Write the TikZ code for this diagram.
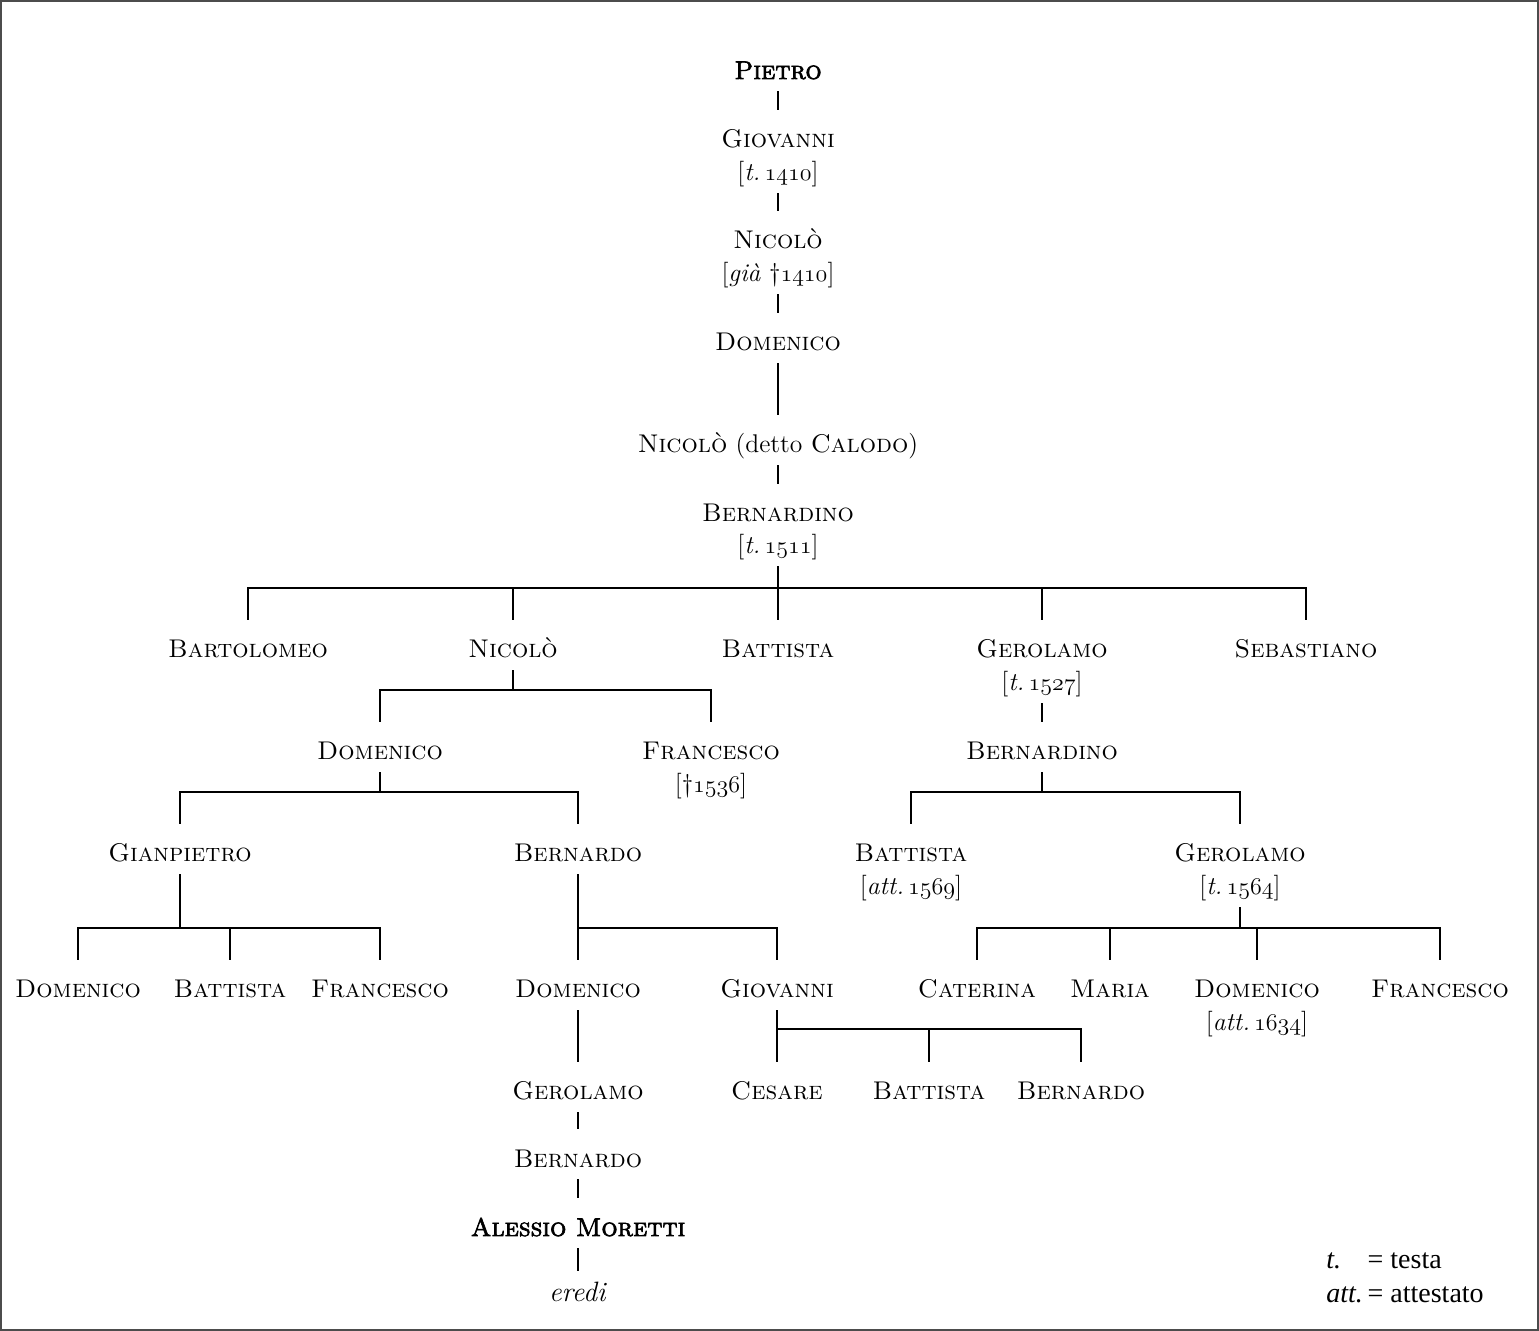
\documentclass[tikz,border=0pt]{standalone}
\usepackage{fontspec}
\newfontfamily\legendfont[Extension=.ttf, UprightFont=LiberationSerif-Regular, ItalicFont=LiberationSerif-Italic]{LiberationSerif}
\newfontfamily\boldcaps[FakeBold=2.5]{lmromancaps10-regular.otf}
\newcommand\osf[1]{{\fontencoding{OML}\fontfamily{cmm}\fontseries{m}\fontshape{it}\selectfont #1}}

\begin{document}
\begin{tikzpicture}[x=0.5pt, y=-0.5pt,
	every node/.style={font=\fontsize{12.8pt}{16pt}\selectfont},
	pers/.style={anchor=base, inner sep=0pt, text height=9pt, text depth=3pt},
	ln/.style={line width=1.35pt, shorten <=3pt, shorten >=10pt}]
	\useasboundingbox (0,0) rectangle (1539,1331);
	\draw[line width=0.6pt, black!70] (1,1) rectangle (1538,1330);

	\coordinate (bar1) at (0,588);
	\coordinate (bar2) at (0,690);
	\coordinate (bar3) at (0,792);
	\coordinate (bar4) at (0,928);
	\coordinate (bar5) at (0,1029);

	\node[pers] (pietro) at (778,79) {\boldcaps Pietro};
	\node[pers] (giovanni) at (778,148) {\textsc{Giovanni}};
	\node[pers] (giovanni-d) at (778,181) {[\textit{t.}\,\osf{1410}]};
	\node[pers] (nicolo) at (778,249) {\textsc{Nicolò}};
	\node[pers] (nicolo-d) at (778,282) {[\textit{già} \textdagger\osf{1410}]};
	\node[pers] (domenico) at (778,351) {\textsc{Domenico}};
	\node[pers] (calodo) at (778,453) {\textsc{Nicolò} (detto \textsc{Calodo})};
	\node[pers] (bernardino) at (778,522) {\textsc{Bernardino}};
	\node[pers] (bernardino-d) at (778,554) {[\textit{t.}\,\osf{1511}]};

	\node[pers] (bartolomeo) at (248,658) {\textsc{Bartolomeo}};
	\node[pers] (nicolob) at (513,658) {\textsc{Nicolò}};
	\node[pers] (battista) at (778,658) {\textsc{Battista}};
	\node[pers] (gerolamo) at (1042,658) {\textsc{Gerolamo}};
	\node[pers] (sebastiano) at (1306,658) {\textsc{Sebastiano}};
	\node[pers] (gerolamo-d) at (1042,691) {[\textit{t.}\,\osf{1527}]};

	\node[pers] (domenicob) at (380,760) {\textsc{Domenico}};
	\node[pers] (francesco) at (711,760) {\textsc{Francesco}};
	\node[pers] (francesco-d) at (711,793) {[\textdagger\osf{1536}]};
	\node[pers] (bernardinob) at (1042,760) {\textsc{Bernardino}};

	\node[pers] (gianpietro) at (180,862) {\textsc{Gianpietro}};
	\node[pers] (bernardo) at (578,862) {\textsc{Bernardo}};
	\node[pers] (battistab) at (911,862) {\textsc{Battista}};
	\node[pers] (battistab-d) at (911,895) {[\textit{att.}\,\osf{1569}]};
	\node[pers] (gerolamob) at (1240,862) {\textsc{Gerolamo}};
	\node[pers] (gerolamob-d) at (1240,895) {[\textit{t.}\,\osf{1564}]};

	\node[pers] (domenicoc) at (78,998) {\textsc{Domenico}};
	\node[pers] (battistac) at (230,998) {\textsc{Battista}};
	\node[pers] (francescob) at (380,998) {\textsc{Francesco}};
	\node[pers] (domenicod) at (578,998) {\textsc{Domenico}};
	\node[pers] (giovannib) at (777,998) {\textsc{Giovanni}};
	\node[pers] (caterina) at (977,998) {\textsc{Caterina}};
	\node[pers] (maria) at (1110,998) {\textsc{Maria}};
	\node[pers] (domenicoe) at (1257,998) {\textsc{Domenico}};
	\node[pers] (domenicoe-d) at (1257,1031) {[\textit{att.}\,\osf{1634}]};
	\node[pers] (francescoc) at (1440,998) {\textsc{Francesco}};

	\node[pers] (gerolamoc) at (578,1100) {\textsc{Gerolamo}};
	\node[pers] (cesare) at (777,1100) {\textsc{Cesare}};
	\node[pers] (battistad) at (929,1100) {\textsc{Battista}};
	\node[pers] (bernardob) at (1081,1100) {\textsc{Bernardo}};
	\node[pers] (bernardoc) at (578,1167) {\textsc{Bernardo}};
	\node[pers] (alessio) at (578,1236) {\boldcaps Alessio Moretti};
	\node[pers] (eredi) at (578,1301) {\fontsize{14pt}{16pt}\selectfont\textit{eredi}};

	\node[anchor=base west, inner sep=0pt, font=\legendfont\fontsize{14pt}{17pt}\selectfont] (legenda) at (1326,1268)
		{\begin{tabular}[t]{@{}l@{\,}l@{}}\textit{t.} & = testa\\ \textit{att.} & = attestato\end{tabular}};

	\draw[ln] (pietro.south) -- (giovanni.north);
	\draw[ln] (giovanni-d.south) -- (nicolo.north);
	\draw[ln] (nicolo-d.south) -- (domenico.north);
	\draw[ln] (domenico.south) -- (calodo.north);
	\draw[ln] (calodo.south) -- (bernardino.north);
	\foreach \c in {bartolomeo,nicolob,battista,gerolamo,sebastiano}
		\draw[ln] (bernardino-d.south) -- (bernardino-d.south |- bar1) -| (\c.north);
	\foreach \c in {domenicob,francesco}
		\draw[ln] (nicolob.south) -- (nicolob.south |- bar2) -| (\c.north);
	\draw[ln] (gerolamo-d.south) -- (bernardinob.north);
	\foreach \c in {gianpietro,bernardo}
		\draw[ln] (domenicob.south) -- (domenicob.south |- bar3) -| (\c.north);
	\foreach \c in {battistab,gerolamob}
		\draw[ln] (bernardinob.south) -- (bernardinob.south |- bar3) -| (\c.north);
	\foreach \c in {domenicoc,battistac,francescob}
		\draw[ln] (gianpietro.south) -- (gianpietro.south |- bar4) -| (\c.north);
	\foreach \c in {domenicod,giovannib}
		\draw[ln] (bernardo.south) -- (bernardo.south |- bar4) -| (\c.north);
	\foreach \c in {caterina,maria,domenicoe,francescoc}
		\draw[ln] (gerolamob-d.south) -- (gerolamob-d.south |- bar4) -| (\c.north);
	\draw[ln] (domenicod.south) -- (gerolamoc.north);
	\foreach \c in {cesare,battistad,bernardob}
		\draw[ln] (giovannib.south) -- (giovannib.south |- bar5) -| (\c.north);
	\draw[ln] (gerolamoc.south) -- (bernardoc.north);
	\draw[ln] (bernardoc.south) -- (alessio.north);
	\draw[ln, shorten >=6pt] (alessio.south) -- (eredi.north);
\end{tikzpicture}
\end{document}
